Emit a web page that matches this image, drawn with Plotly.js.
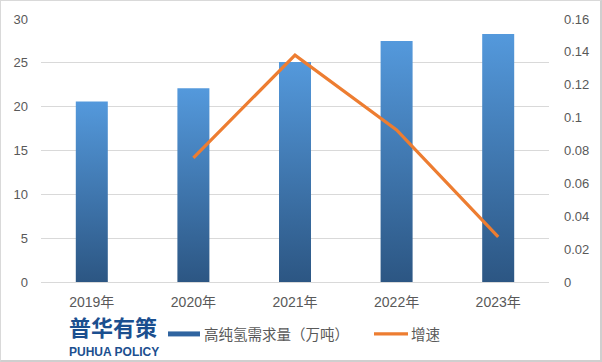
<!DOCTYPE html>
<html>
<head>
<meta charset="utf-8">
<script src="https://cdn.plot.ly/plotly-3.0.1.min.js"></script>
<style>
html,body{margin:0;padding:0;background:#fff;}
#chart{width:599px;height:359px;border:1px solid #d9d9d9;border-right:2px solid #cfcfcf;border-bottom:2px solid #cfcfcf;}
</style>
</head>
<body>
<div id="chart"></div>
<script>
const years = ['2019年','2020年','2021年','2022年','2023年'];
const demand = [20.6, 22.1, 25.1, 27.5, 28.3];
const growthYears = ['2020年','2021年','2022年','2023年'];
const growth = [0.0755, 0.138, 0.0925, 0.0275];
const leftTicks = [0,5,10,15,20,25,30];
const rightTicks = [0,0.02,0.04,0.06,0.08,0.1,0.12,0.14,0.16];

const FONT = 'Liberation Sans, Noto Sans CJK SC, sans-serif';
const GREY = '#595959';

const traces = [
  {type:'bar', x: years, y: demand, name:'高纯氢需求量（万吨）',
   marker:{color:'#3f78b5'}, yaxis:'y'},
  {type:'scatter', mode:'lines', x: growthYears, y: growth, name:'增速',
   line:{color:'#ED7D31', width:3.2}, yaxis:'y2'}
];

const layout = {
  width:599, height:359,
  margin:{l:40, r:51, t:18, b:78, autoexpand:false},
  paper_bgcolor:'#fff', plot_bgcolor:'#fff',
  font:{family:FONT, size:13, color:GREY},
  bargap:0.685,
  showlegend:true,
  legend:{orientation:'h', xref:'container', yref:'container', x:163/599, xanchor:'left',
          y:1-333/359, yanchor:'middle',
          font:{family:'Noto Sans CJK SC, sans-serif', size:14.5, color:GREY},
          itemwidth:30, tracegroupgap:0, bgcolor:'rgba(0,0,0,0)',
          entrywidthmode:'pixels', entrywidth:162},
  xaxis:{type:'category', showgrid:false, showline:true, linecolor:'#d9d9d9', linewidth:1,
         ticks:'', tickfont:{family:FONT, size:14, color:GREY}, ticklabelstandoff:7,
         fixedrange:true},
  yaxis:{range:[0,30], tickvals:leftTicks, ticktext:leftTicks.map(String), showgrid:true, gridcolor:'#d9d9d9',
         gridwidth:1, zeroline:false, ticks:'', showline:false, tickfont:{size:13, color:GREY},
         ticklabelstandoff:12, fixedrange:true},
  yaxis2:{range:[0,0.16], overlaying:'y', side:'right', tickvals:rightTicks,
          ticktext:rightTicks.map(String), showgrid:false, zeroline:false, ticks:'',
          tickfont:{size:13, color:GREY}, fixedrange:true, ticklabelstandoff:14},
  annotations:[
    {xref:'paper', yref:'paper', x:(67-41)/509, y:(282-326)/263, xanchor:'left', yanchor:'middle',
     text:'<b>普华有策</b>', showarrow:false,
     font:{family:'Noto Sans CJK SC, sans-serif', size:22, color:'#1b4f8f'}},
    {xref:'paper', yref:'paper', x:(67-41)/509, y:(282-352)/263, xanchor:'left', yanchor:'middle',
     text:'<b>PUHUA POLICY</b>', showarrow:false,
     font:{family:'Liberation Sans, Noto Sans, sans-serif', size:12, color:'#1b4f8f'}}
  ]
};

Plotly.newPlot('chart', traces, layout, {displayModeBar:false, staticPlot:true}).then(function(gd){
  const svg = gd.querySelector('svg.main-svg');
  const ns = 'http://www.w3.org/2000/svg';
  let defs = svg.querySelector('defs');
  if(!defs){defs = document.createElementNS(ns,'defs'); svg.insertBefore(defs, svg.firstChild);}
  const g = document.createElementNS(ns,'linearGradient');
  g.setAttribute('id','barGrad');
  g.setAttribute('x1','0'); g.setAttribute('y1','0'); g.setAttribute('x2','0'); g.setAttribute('y2','1');
  [['0','#5499dc'],['1','#2c5683']].forEach(function(s){
    const st = document.createElementNS(ns,'stop'); st.setAttribute('offset',s[0]); st.setAttribute('stop-color',s[1]); g.appendChild(st);
  });
  defs.appendChild(g);
  gd.querySelectorAll('.barlayer .point path').forEach(function(p){ p.style.fill = 'url(#barGrad)'; });
  gd.querySelectorAll('.legend .legendpoints path').forEach(function(p){
    if(p.classList.contains('legendundefined') || p.closest('.legendbar') || (p.style.fill && p.style.fill !== 'none' && p.getAttribute('d') && p.getAttribute('d').indexOf('H') >= 0)){
      p.setAttribute('d','M16,2.5H-16V-2.5H16Z');
      p.style.fill = '#2f64a0';
      p.style.stroke = 'none';
    }
  });
  gd.querySelectorAll('.legend .legendlines path').forEach(function(p){ p.setAttribute('d','M3,0h34'); });
});
</script>
</body>
</html>
